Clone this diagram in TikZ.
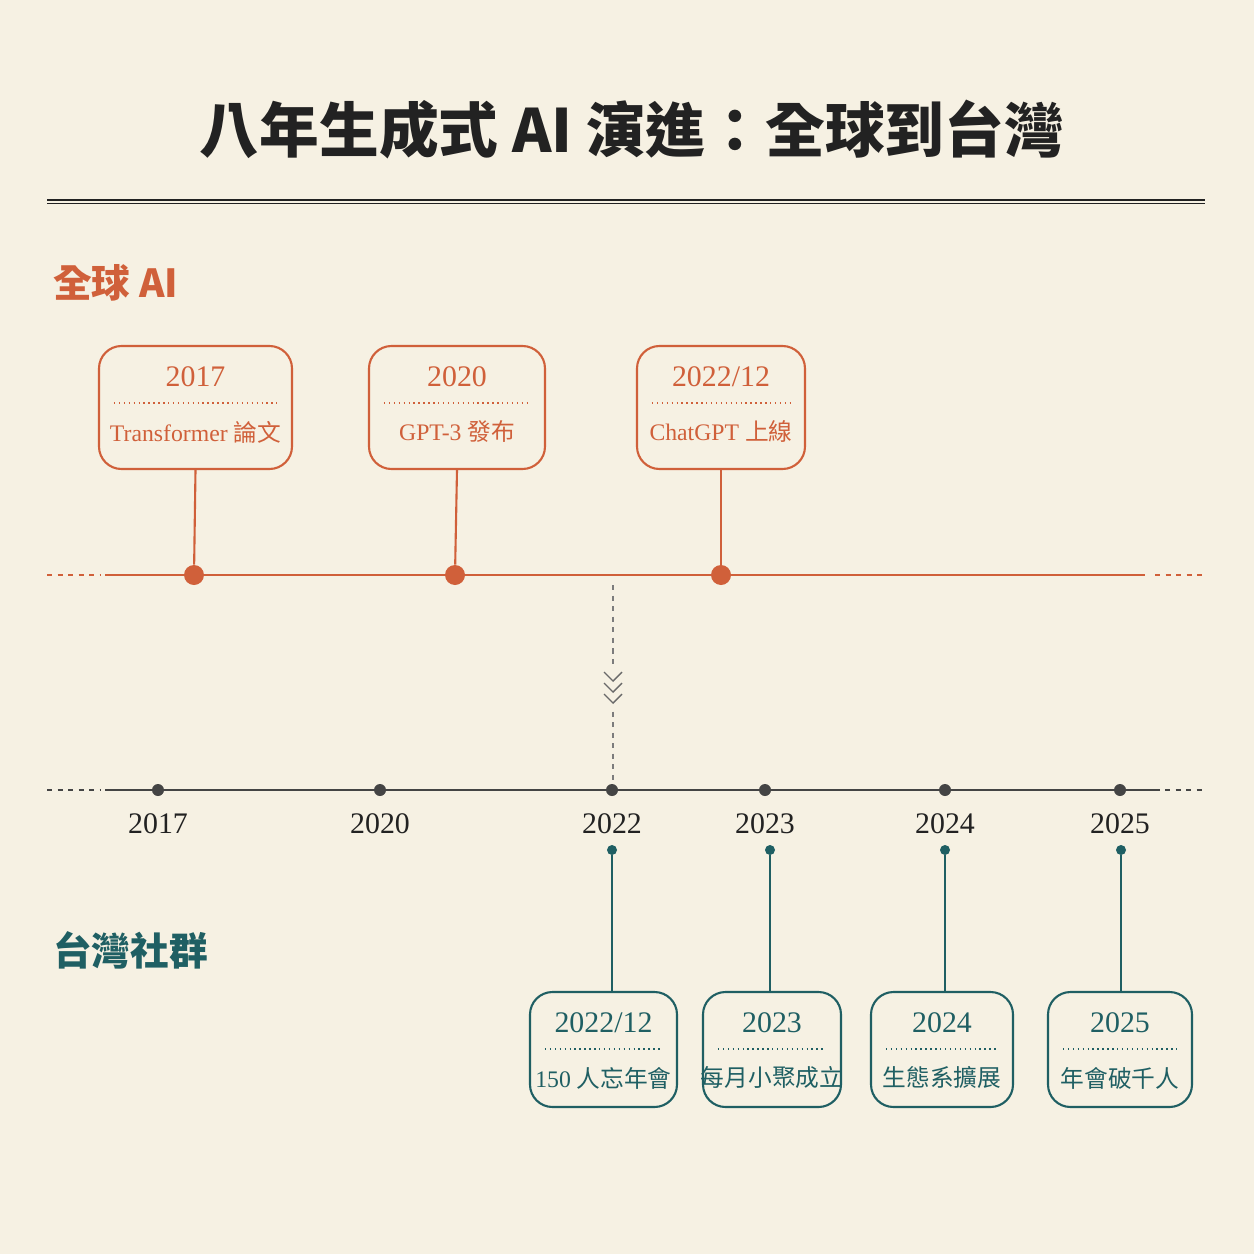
\documentclass[tikz,border=0pt]{standalone}
\usepackage{fontspec}
\setmainfont{Liberation Serif}
\newfontfamily\cjk{Noto Sans CJK TC}
\usetikzlibrary{calc}
\definecolor{paper}{HTML}{F6F1E3}
\definecolor{rust}{HTML}{D0603A}
\definecolor{teal}{HTML}{1F5F63}
\definecolor{ink}{HTML}{222222}
\definecolor{axis}{HTML}{444444}
\newcommand{\eventbox}[8]{
	% #1 name, #2 x, #3 y, #4 width, #5 height, #6 colour, #7 year, #8 label
	\node[draw=#6, fill=paper, line width=1.2pt, rounded corners=0.45cm,
		minimum width=#4*0.02cm, minimum height=#5*0.02cm] (#1) at (#2,#3) {};
	\node[text=#6, font=\fontsize{17}{17}\selectfont] at ($(#1.north)+(0,32)$) {#7};
	\draw[#6, dotted, thick] ($(#1.north west)+(16,58)$) -- ($(#1.north east)+(-16,58)$);
	\node[text=#6, font=\fontsize{13.5}{14}\selectfont] at ($(#1.north)+(0,87)$) {#8};
}
\begin{document}
\begin{tikzpicture}[x=0.02cm,y=-0.02cm]
	\fill[paper] (0,0) rectangle (1254,1254);
	\useasboundingbox (0,0) rectangle (1254,1254);
	\tikzset{
		bigdot/.style={circle, fill=rust, inner sep=0pt, minimum size=0.4cm},
		axisdot/.style={circle, fill=axis, inner sep=0pt, minimum size=0.24cm},
		tealdot/.style={circle, fill=teal, inner sep=0pt, minimum size=0.2cm},
		yearlbl/.style={text=ink, font=\fontsize{17}{17}\selectfont},
	}
	% title
	\node[text=ink, font=\cjk\bfseries\fontsize{34}{34}\selectfont] (title) at (632,130) {八年生成式 AI 演進：全球到台灣};
	\draw[ink, line width=1pt] (47,200) -- (1205,200);
	\draw[ink, line width=0.5pt] (47,203.5) -- (1205,203.5);
	\node[anchor=west, text=rust, font=\cjk\bfseries\fontsize{22}{22}\selectfont] (global) at (47,283) {全球 AI};
	\node[anchor=west, text=teal, font=\cjk\bfseries\fontsize{22}{22}\selectfont] (taiwan) at (47,950) {台灣社群};

	% global timeline
	\draw[rust, line width=1.2pt] (105,575) -- (1145,575);
	\draw[rust, line width=1.2pt, dashed] (47,575) -- (100,575);
	\draw[rust, line width=1.2pt, dashed] (1155,575) -- (1205,575);
	\eventbox{g1}{195.5}{407.5}{193}{123}{rust}{2017}{Transformer {\cjk 論文}}
	\eventbox{g2}{457}{407.5}{176}{123}{rust}{2020}{GPT-3 {\cjk 發布}}
	\eventbox{g3}{721}{407.5}{168}{123}{rust}{2022/12}{ChatGPT {\cjk 上線}}
	\node[bigdot] (d1) at (194,575) {};
	\node[bigdot] (d2) at (455,575) {};
	\node[bigdot] (d3) at (721,575) {};
	\foreach \i in {1,2,3}
		\draw[rust, line width=1.2pt] (g\i.south) -- (d\i);

	% link between timelines
	\draw[axis!70, dashed, line width=0.8pt] (613,585) -- (613,785);
	\fill[paper] (603,668) rectangle (623,710);
	\foreach \yy in {672,683,694}
		\draw[axis!80, line width=0.8pt] (604,\yy) -- (613,\yy+9) -- (622,\yy);

	% taiwan axis
	\draw[axis, line width=1pt] (105,790) -- (1160,790);
	\draw[axis, line width=1pt, dashed] (47,790) -- (100,790);
	\draw[axis, line width=1pt, dashed] (1165,790) -- (1205,790);
	\foreach \n/\xx/\yr in {a1/158/2017, a2/380/2020, a3/612/2022, a4/765/2023, a5/945/2024, a6/1120/2025} {
		\node[axisdot] (\n) at (\xx,790) {};
		\node[yearlbl] at (\xx,824) {\yr};
	}

	% taiwan events
	\eventbox{t1}{603.5}{1049.5}{147}{115}{teal}{2022/12}{150 {\cjk 人忘年會}}
	\eventbox{t2}{772}{1049.5}{138}{115}{teal}{2023}{\cjk 每月小聚成立}
	\eventbox{t3}{942}{1049.5}{142}{115}{teal}{2024}{\cjk 生態系擴展}
	\eventbox{t4}{1120}{1049.5}{144}{115}{teal}{2025}{\cjk 年會破千人}
	\foreach \i/\xx in {1/612, 2/770, 3/945, 4/1121} {
		\node[tealdot] (s\i) at (\xx,850) {};
		\draw[teal, line width=1.2pt] (s\i) -- (\xx,992);
	}
\end{tikzpicture}
\end{document}
